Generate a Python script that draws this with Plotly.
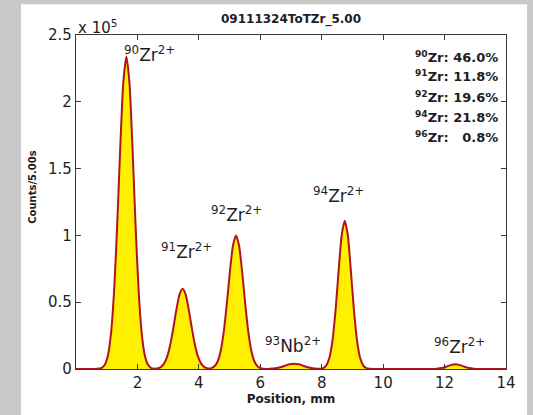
import plotly.graph_objects as go

# Spectrum: detector position (mm) and counts per 5.00 s
position_mm = [
    0.0, 0.6, 0.84, 0.94, 1.04, 1.14, 1.24, 1.34, 1.44, 1.54, 1.64,
    1.74, 1.84, 1.94, 2.04, 2.14, 2.24, 2.34, 2.44, 2.57, 2.67,
    2.77, 2.87, 2.97, 3.07, 3.17, 3.27, 3.37, 3.47, 3.57, 3.67,
    3.77, 3.87, 3.97, 4.07, 4.17, 4.27, 4.34, 4.41, 4.51, 4.61,
    4.71, 4.81, 4.91, 5.01, 5.11, 5.21, 5.31, 5.41, 5.51, 5.61,
    5.71, 5.81, 5.91, 6.01, 6.21, 6.3, 6.5, 6.65, 6.8, 6.95,
    7.1, 7.25, 7.4, 7.55, 7.7, 7.85, 7.95, 8.05, 8.15, 8.25,
    8.35, 8.45, 8.55, 8.65, 8.75, 8.85, 8.95, 9.05, 9.15, 9.25,
    9.35, 9.45, 9.55, 9.8, 11.5, 11.75, 11.9, 12.05, 12.2, 12.35,
    12.5, 12.65, 12.8, 12.95, 13.2, 14.0,
]
counts = [
    0, 0, 900, 3300, 10300, 26700, 58400, 107100, 165400, 214500, 234000,
    214500, 165400, 107100, 58400, 26700, 10300, 3300, 900, 280, 550,
    1600, 4200, 9400, 18400, 30800, 44600, 55700, 60000, 55700, 44600,
    30800, 18400, 9400, 4200, 1600, 620, 450, 690, 2000, 5600,
    13500, 27800, 48700, 72600, 92300, 100000, 92300, 72600, 48700, 27800,
    13500, 5600, 2000, 600, 60, 110, 540, 1300, 2400, 3500,
    4000, 3500, 2400, 1300, 540, 200, 220, 700, 2700, 8400,
    21300, 43800, 73400, 100100, 111000, 100100, 73400, 43800, 21300, 8400,
    2700, 700, 150, 0, 0, 200, 690, 1700, 2900, 3500,
    2900, 1700, 690, 200, 0, 0,
]

# Peak identifications
peak_mass = [90, 91, 92, 93, 94, 96]
peak_element = ["Zr", "Zr", "Zr", "Nb", "Zr", "Zr"]
peak_label_x = [2.39, 3.6, 5.21, 7.08, 8.54, 12.49]
peak_label_y = [236000, 88500, 116000, 18000, 130000, 17400]

# Isotopic abundances
abundance_mass = [90, 91, 92, 94, 96]
abundance_pct = [46.0, 11.8, 19.6, 21.8, 0.8]

# Axis ticks
x_ticks = [2, 4, 6, 8, 10, 12, 14]
y_ticks = [0, 50000, 100000, 150000, 200000, 250000]
y_tick_text = ["0", "0.5", "1", "1.5", "2", "2.5"]

title_text = "09111324ToTZr_5.00"
x_title = "Position, mm"
y_title = "Counts/5.00s"

FONT = "DejaVu Sans"
INK = "#1e1e1e"
AXIS = "#3a3a3a"

fig = go.Figure()
fig.add_trace(go.Scatter(
    x=position_mm, y=counts, mode="lines",
    line=dict(color="#b0151d", width=2, shape="spline", smoothing=0.6),
    fill="tozeroy", fillcolor="#fff000",
    hoverinfo="skip", showlegend=False,
))

annotations = []
for m, el, lx, ly in zip(peak_mass, peak_element, peak_label_x, peak_label_y):
    annotations.append(dict(
        x=lx, y=ly, xref="x", yref="y", showarrow=False,
        text=f"<sup>{m}</sup>{el}<sup>2+</sup>",
        font=dict(family=FONT, size=17, color=INK),
        xanchor="center", yanchor="middle",
    ))

# Abundance table, right-aligned in the upper right corner
row_y = [0.935, 0.876, 0.815, 0.755, 0.695]
for m, p, ry in zip(abundance_mass, abundance_pct, row_y):
    num = f"{p:.1f}%"
    pad = "\u00a0\u00a0" * (5 - len(num))
    annotations.append(dict(
        x=0.986, y=ry, xref="paper", yref="paper", showarrow=False,
        text=f"<sup>{m}</sup>Zr:\u00a0{pad}{num}",
        font=dict(family=FONT, size=13, color=INK, weight="bold"),
        xanchor="right", yanchor="middle",
    ))

# Exponent marker for the y axis
annotations.append(dict(
    x=0.0, y=1.025, xref="paper", yref="paper", showarrow=False,
    text="x 10<sup>5</sup>", font=dict(family=FONT, size=15, color=INK),
    xanchor="left", yanchor="middle",
))

# Title
annotations.append(dict(
    x=0.5, y=1.047, xref="paper", yref="paper", showarrow=False,
    text=title_text, font=dict(family=FONT, size=12, color=INK, weight="bold"),
    xanchor="center", yanchor="middle",
))

# Y-axis title
annotations.append(dict(
    x=-0.102, y=0.546, xref="paper", yref="paper", showarrow=False,
    text=y_title, textangle=-90,
    font=dict(family=FONT, size=10, color=INK, weight="bold"),
    xanchor="center", yanchor="middle",
))

fig.update_layout(
    width=533, height=415,
    margin=dict(l=76, r=27, t=35, b=43),
    paper_bgcolor="#c8c8c8",
    plot_bgcolor="white",
    annotations=annotations,
    shapes=[dict(
        type="rect", xref="paper", yref="paper",
        x0=-0.128, x1=1.049, y0=-0.2, y1=1.092,
        fillcolor="white", line=dict(width=0), layer="below",
    )],
)

fig.update_xaxes(
    range=[0, 14], tickvals=x_ticks, ticks="inside", ticklen=5,
    tickcolor=AXIS, showline=True, linecolor=AXIS, linewidth=1.2,
    mirror="ticks", showgrid=False, zeroline=False,
    tickfont=dict(family=FONT, size=15, color=INK),
    title=dict(text=x_title, standoff=3,
               font=dict(family=FONT, size=12, color=INK, weight="bold")),
)
fig.update_yaxes(
    range=[0, 250000], tickvals=y_ticks, ticktext=y_tick_text,
    ticks="inside", ticklen=5, tickcolor=AXIS, showline=True,
    linecolor=AXIS, linewidth=1.2, mirror="ticks", showgrid=False,
    zeroline=False,
    tickfont=dict(family=FONT, size=15, color=INK),
)

fig.write_html("out.html")
